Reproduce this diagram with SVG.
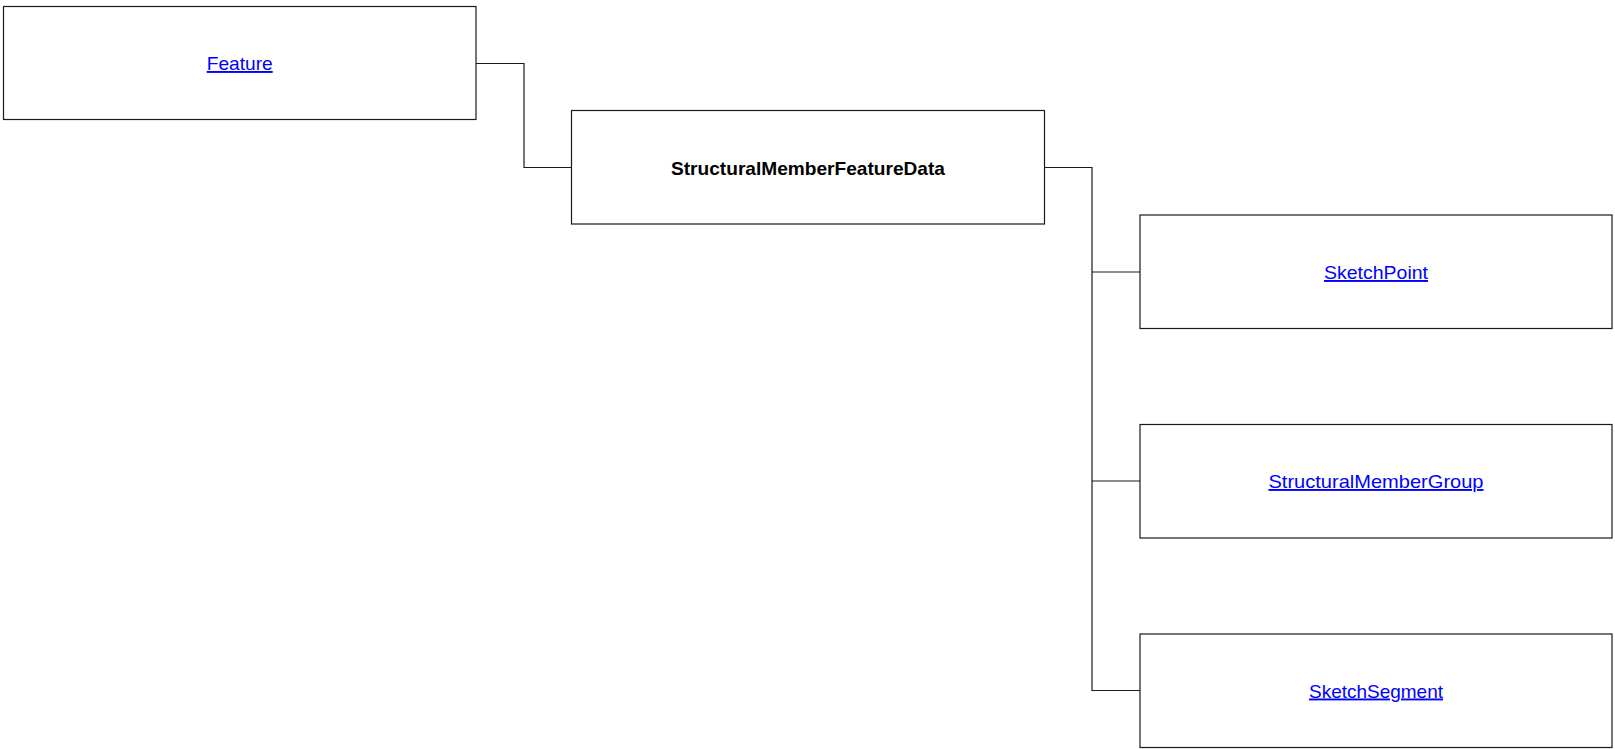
<svg xmlns="http://www.w3.org/2000/svg" width="1615" height="749" viewBox="0 0 1615 749">
<style>
.box{fill:#fff;stroke:#1a1a1a;stroke-width:1.2}
.lbl{font-family:"Liberation Sans",Arial,sans-serif;font-size:19px;text-anchor:middle}
.link{fill:#0000ff;text-decoration:underline}
.bold{fill:#000;font-weight:bold}
.conn{fill:none;stroke:#1a1a1a;stroke-width:1.2}
</style>
<rect width="1615" height="749" fill="#fff"/>
<g id="connectors">
<path class="conn" d="M476,63.5H524V167.5H571.5"/>
<path class="conn" d="M1044.5,167.5H1092V690.5H1140"/>
<path class="conn" d="M1092,272H1140"/>
<path class="conn" d="M1092,481H1140"/>
</g>
<g id="feature">
<rect class="box" x="3.5" y="6.5" width="472.5" height="113"/>
<text class="lbl link" x="239.7" y="70" textLength="66" lengthAdjust="spacingAndGlyphs">Feature</text>
</g>
<g id="structuralMemberFeatureData">
<rect class="box" x="571.5" y="110.5" width="473" height="113.5"/>
<text class="lbl bold" x="808" y="174.5" textLength="274" lengthAdjust="spacingAndGlyphs">StructuralMemberFeatureData</text>
</g>
<g id="sketchPoint">
<rect class="box" x="1140" y="215" width="472" height="113.5"/>
<text class="lbl link" x="1376" y="279" textLength="104" lengthAdjust="spacingAndGlyphs">SketchPoint</text>
</g>
<g id="structuralMemberGroup">
<rect class="box" x="1140" y="424.5" width="472" height="113.5"/>
<text class="lbl link" x="1376" y="488" textLength="215" lengthAdjust="spacingAndGlyphs">StructuralMemberGroup</text>
</g>
<g id="sketchSegment">
<rect class="box" x="1140" y="634" width="472" height="113.5"/>
<text class="lbl link" x="1376" y="697.5" textLength="134" lengthAdjust="spacingAndGlyphs">SketchSegment</text>
</g>
</svg>
